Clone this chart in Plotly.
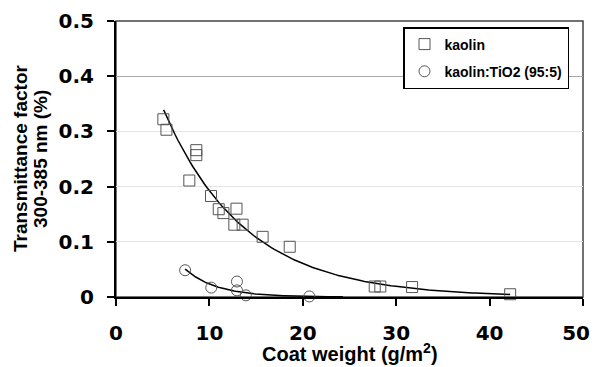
import numpy as np
import plotly.graph_objects as go

# Data
kaolin_x = [5.07, 5.4, 8.6, 8.6, 7.85, 10.17, 11.0, 11.5, 12.9, 12.67, 13.56, 15.7, 18.6, 27.7, 28.3, 31.7, 42.2]
kaolin_y = [0.322, 0.303, 0.266, 0.257, 0.211, 0.183, 0.159, 0.152, 0.160, 0.131, 0.131, 0.109, 0.091, 0.019, 0.019, 0.018, 0.005]

tio2_x = [7.4, 10.2, 12.95, 12.95, 13.9, 20.7]
tio2_y = [0.0485, 0.017, 0.028, 0.012, 0.003, 0.001]

kaolin_trend_range = (5.1, 42.2)
tio2_trend_range = (7.4, 24.3)

x_ticks = [0, 10, 20, 30, 40, 50]
# last label nudged left (figure space) so it stays inside the image like the reference
x_tick_labels = ["0", "10", "20", "30", "40", "50\u2007"]
y_ticks = [0, 0.1, 0.2, 0.3, 0.4, 0.5]
y_tick_labels = ["0", "0.1", "0.2", "0.3", "0.4", "0.5"]

x_title = "Coat weight (g/m<sup>2</sup>)"
y_title_lines = ["Transmittance factor", "300-385 nm (%)"]


def exp_trend(xs, ys, rng):
    b, ln_a = np.polyfit(np.array(xs), np.log(np.array(ys)), 1)
    xx = np.linspace(rng[0], rng[1], 120)
    return xx, np.exp(ln_a) * np.exp(b * xx)


FONT = "Liberation Sans, Arial, sans-serif"
TICKFONT = "DejaVu Sans, sans-serif"
fig = go.Figure()

kx, ky = exp_trend(kaolin_x, kaolin_y, kaolin_trend_range)
tx, ty = exp_trend(tio2_x, tio2_y, tio2_trend_range)

fig.add_trace(go.Scatter(x=kx, y=ky, mode="lines", line=dict(color="black", width=1.5),
                         showlegend=False, hoverinfo="skip"))
fig.add_trace(go.Scatter(x=tx, y=ty, mode="lines", line=dict(color="black", width=1.5),
                         showlegend=False, hoverinfo="skip"))

fig.add_trace(go.Scatter(
    x=kaolin_x, y=kaolin_y, mode="markers", name="<b>kaolin</b>", legendgroup="a",
    marker=dict(symbol="square-open", size=11, color="#555555", line=dict(width=1)),
    cliponaxis=False))
fig.add_trace(go.Scatter(
    x=tio2_x, y=tio2_y, mode="markers", name="<b>kaolin:TiO2 (95:5)</b>", legendgroup="b",
    marker=dict(symbol="circle-open", size=11, color="#555555", line=dict(width=1)),
    cliponaxis=False))

# overlay axis for the darker 0.4 gridline
fig.add_trace(go.Scatter(x=[0], y=[0], yaxis="y2", mode="markers", marker=dict(opacity=0),
                         showlegend=False, hoverinfo="skip"))

# figure is drawn inside the page body's default 8px margin
W, H = 590, 359
ML, MT, MR, MB = 108, 13, 15, 70
PW = W - ML - MR
PH = H - MT - MB


def px_to_paper_x(px):
    return (px - 8 - ML) / PW


annotations = [
    dict(text="<b>" + x_title + "</b>", xref="paper", yref="paper", x=0.5, y=-0.15,
         xanchor="center", yanchor="top", showarrow=False, font=dict(size=20, family=FONT)),
]
for i, line in enumerate(y_title_lines):
    annotations.append(dict(text="<b>" + line + "</b>", xref="paper", yref="paper",
                            x=px_to_paper_x(20 + i * 20), y=0.5, xanchor="center",
                            yanchor="middle", textangle=-90, showarrow=False,
                            font=dict(size=19, family=FONT)))

fig.update_layout(
    width=W, height=H,
    margin=dict(l=ML, r=MR, t=MT, b=MB),
    paper_bgcolor="white", plot_bgcolor="white",
    font=dict(family=FONT, color="black"),
    xaxis=dict(range=[0, 50], tickvals=x_ticks, ticktext=x_tick_labels, ticks="outside",
               ticklen=7, tickwidth=1.5, tickcolor="black", showline=True, linecolor="black",
               linewidth=2, showgrid=False, zeroline=False, automargin=False,
               ticklabelstandoff=10, ticklabeloverflow="allow",
               tickfont=dict(size=20, family=TICKFONT, weight="bold")),
    yaxis=dict(range=[0, 0.5], tickvals=y_ticks, ticktext=y_tick_labels, ticks="outside",
               ticklen=7, tickwidth=1.5, tickcolor="black", showline=True, linecolor="black",
               linewidth=2, showgrid=True, gridcolor="#e4e4e4", gridwidth=1, zeroline=False,
               automargin=False, ticklabelstandoff=9, ticklabeloverflow="allow",
               tickfont=dict(size=20, family=TICKFONT, weight="bold")),
    yaxis2=dict(range=[0, 0.5], overlaying="y", tickvals=[0.4], showticklabels=False,
                ticks="", showgrid=True, gridcolor="#a8a8a8", gridwidth=1, zeroline=False,
                showline=False, automargin=False),
    legend=dict(x=px_to_paper_x(403), y=1 - (27 - 8 - MT) / PH, xanchor="left", yanchor="top",
                bgcolor="white", bordercolor="black", borderwidth=1.5, tracegroupgap=6,
                font=dict(size=14, family=FONT), itemwidth=30),
    shapes=[dict(type="rect", xref="paper", yref="paper", x0=0, y0=0, x1=1, y1=1,
                 line=dict(color="#444444", width=1.5), layer="below")],
    annotations=annotations,
)

fig.write_html("out.html")
